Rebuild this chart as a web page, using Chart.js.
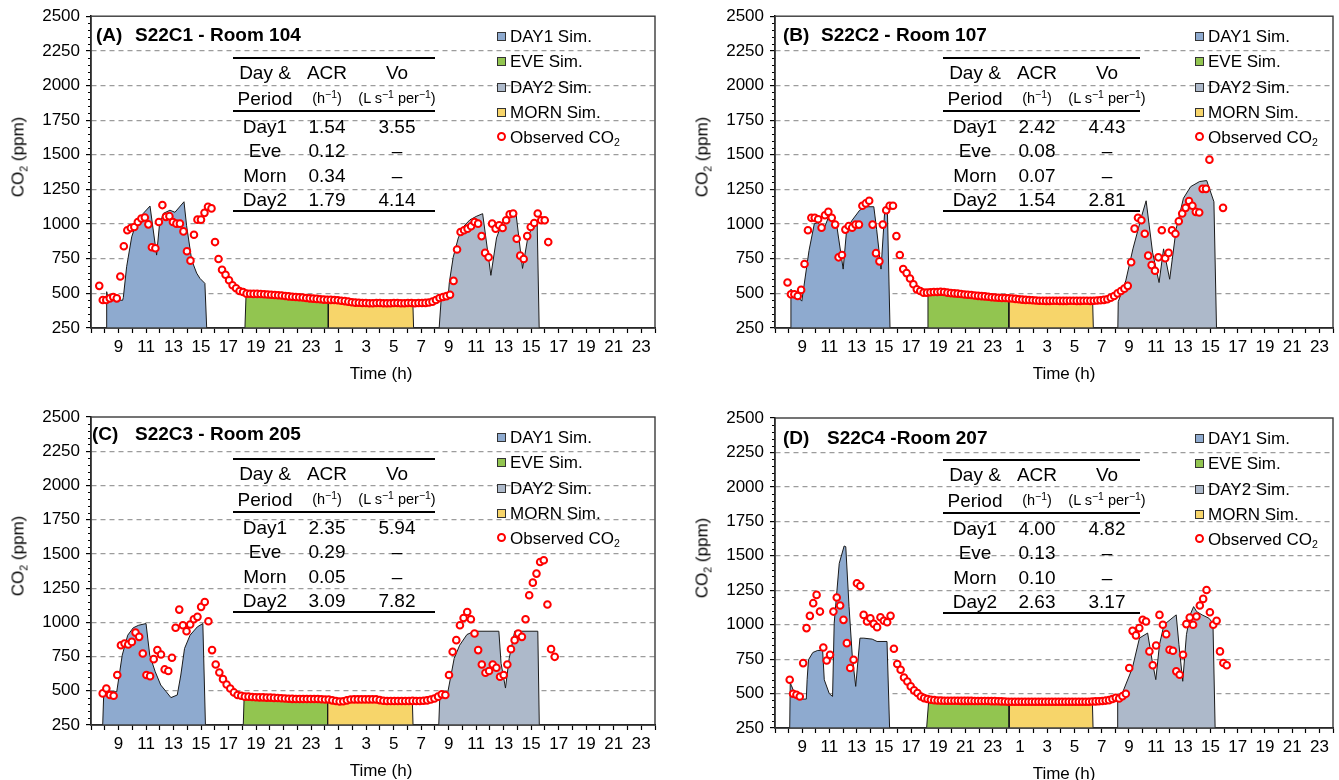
<!DOCTYPE html>
<html>
<head>
<meta charset="utf-8">
<title>Simulated vs observed CO2</title>
<script src="https://cdn.jsdelivr.net/npm/chart.js@4.4.1/dist/chart.umd.min.js"></script>
<style>
  html, body { margin: 0; padding: 0; background: #fff; }
  body { position: relative; width: 1339px; height: 780px; overflow: hidden;
         font-family: "Liberation Sans", Arial, Helvetica, sans-serif; color: #000; }
  canvas { position: absolute; }
  .txt { position: absolute; white-space: nowrap; line-height: 1; }
  .title { font-weight: bold; font-size: 19px; }
  .tbl { font-size: 19px; }
  .unit { font-size: 14.5px; }
  .axt { font-size: 17px; }
  .leg { font-size: 17px; }
  sub { font-size: 0.62em; vertical-align: -0.35em; line-height: 0; }
  sup { font-size: 0.72em; vertical-align: 0.45em; line-height: 0; }
  .rule { position: absolute; height: 2px; background: #000; }
  .sw { position: absolute; width: 7px; height: 7px; border: 1px solid #333; }
  .ring { position: absolute; width: 5px; height: 5px; border: 2px solid #f00; border-radius: 50%; background: #fff; }
</style>
</head>
<body>
<script>
// x axis runs from 07:00 on day 1 to 24:00 on day 2 (day-2 hours are +24)
const xMin = 7, xMax = 48, xStep = 1;
const yMin = 250, yMax = 2500, yStep = 250, yMinor = 50;

const periodLabels = ['DAY1 Sim.', 'EVE Sim.', 'DAY2 Sim.', 'MORN Sim.'];
const obsLabel = 'Observed CO<sub>2</sub>';
const tableHead = ['Day &amp;', 'ACR', 'Vo'];
const tableUnits = ['Period', '(h<sup>−1</sup>)', '(L s<sup>−1</sup> per<sup>−1</sup>)'];
const tableRows = ['Day1', 'Eve', 'Morn', 'Day2'];

const colDay1 = '#8eaacf', colEve = '#92c550', colDay2 = '#adb9ca', colMorn = '#f7d56a';

// ---------- (A) S22C1 - Room 104 ----------
const acrA = ['1.54', '0.12', '0.34', '1.79'];
const voA = ['3.55', '–', '–', '4.14'];
const day1AX = [8.14, 8.14, 8.26, 9.3, 9.35, 9.59, 9.96, 10.32, 10.8, 11.29, 11.77, 11.97, 12.26, 12.74, 13.1, 13.76, 13.95, 14.32, 14.68, 14.92, 15.28, 15.41];
const day1AY = [250, 512, 455, 450, 470, 692, 908, 1016, 1077, 1130, 776, 988, 1077, 1100, 1085, 1161, 988, 740, 646, 608, 572, 250];
const eveAX = [18.19, 18.27, 20, 22, 24.25, 24.25];
const eveAY = [250, 485, 478, 462, 450, 250];
const mornAX = [24.25, 24.25, 25, 26, 28, 30.4, 30.45];
const mornAY = [250, 448, 440, 430, 426, 425, 250];
const day2AX = [32.31, 32.45, 32.95, 33.05, 33.33, 33.7, 34.06, 34.54, 35.0, 35.47, 36.07, 36.48, 36.85, 37.21, 37.5, 37.89, 38.37, 38.75, 39.15, 39.43, 39.58];
const day2AY = [250, 450, 460, 580, 760, 900, 980, 1030, 1055, 1075, 630, 900, 1000, 1050, 1070, 1080, 680, 900, 1000, 1030, 250];
const obsAStart = 7.6, obsAStep = 0.255;
const obsA = [
  554, 452, 452, 464, 474, 464, 622, 840, 955, 972, 979, 1015, 1040, 1047, 998, 833, 826, 1015, 1137, 1052,
  1057, 1015, 1003, 1003, 947, 804, 736, 923, 1032, 1032, 1081, 1125, 1113,
  870, 748, 670, 634, 595, 559, 537, 517, 510, 498,
  497, 496, 496, 495, 494, 492, 490, 488, 486, 484, 481, 478, 476, 474, 472, 470, 467, 464, 462, 460,
  457, 455, 454, 453, 452, 450, 447, 444, 440, 436, 433, 432, 430, 430, 429, 429, 430, 430, 429, 429,
  429, 430, 430, 429, 429, 430, 430, 429, 430, 430, 431, 434,
  440, 452, 466, 474, 480, 490, 590, 816, 943, 955, 967, 984, 1015, 1003, 913, 792, 760, 1003, 967, 991,
  972, 1028, 1071, 1076, 894, 772, 748, 913, 979, 1008, 1076, 1028, 1028, 870
];

// ---------- (B) S22C2 - Room 107 ----------
const acrB = ['2.42', '0.08', '0.07', '1.54'];
const voB = ['4.43', '–', '–', '2.81'];
const day1BX = [8.12, 8.17, 8.42, 8.97, 9.5, 9.89, 10.17, 10.56, 11.08, 11.52, 12.01, 12.27, 12.67, 13.22, 13.72, 14.26, 14.47, 14.79, 15.05, 15.26, 15.45];
const day1BY = [250, 530, 500, 444, 809, 1003, 1010, 955, 1088, 1000, 675, 967, 1028, 1100, 1125, 1125, 960, 675, 1076, 1090, 250];
const eveBX = [18.17, 18.24, 20, 22, 24.18, 24.18];
const eveBY = [250, 490, 484, 474, 464, 250];
const mornBX = [24.18, 24.18, 26, 28, 30.34, 30.39];
const mornBY = [250, 462, 447, 442, 440, 250];
const day2BX = [32.19, 32.22, 32.77, 33.3, 33.96, 34.27, 34.74, 35.22, 35.55, 36.0, 36.48, 37.01, 37.54, 38.2, 38.72, 39.25, 39.44];
const day2BY = [250, 440, 590, 821, 1064, 1168, 797, 578, 821, 602, 967, 1186, 1270, 1307, 1314, 1161, 250];
const obsBStart = 7.92, obsBStep = 0.25;
const obsB = [
  578, 493, 493, 481, 525, 712, 955, 1045, 1045, 1035, 974, 1064, 1088, 1045, 996, 760, 777, 960, 986, 974,
  996, 996, 1132, 1149, 1168, 996, 790, 731, 996, 1100, 1132, 1132, 913, 777, 675, 646, 607, 566, 529, 517, 505,
  505, 508, 510, 510, 512, 510, 505, 502, 500, 498, 495, 492, 490, 488, 485, 482, 480, 478, 475, 472,
  470, 468, 467, 466, 465, 463, 460, 458, 455, 453, 452, 450, 448,
  447, 447, 446, 446, 447, 447, 446, 446, 446, 447, 447, 446, 446, 447, 447, 446, 447, 448, 450, 453,
  457, 469, 481, 500, 517, 534, 554, 724, 967, 1045, 1028, 930, 772, 704, 663, 760, 955, 753, 792, 955,
  930, 1020, 1076, 1117, 1166, 1132, 1088, 1083, 1254, 1254, 1465,
  null, null, null, 1117
];

// ---------- (C) S22C3 - Room 205 ----------
const acrC = ['2.35', '0.29', '0.05', '3.09'];
const voC = ['5.94', '–', '–', '7.82'];
const day1CX = [7.85, 7.93, 8.87, 9.27, 9.67, 10.07, 10.47, 11.0, 11.27, 11.67, 12.07, 12.47, 12.81, 13.27, 13.53, 13.8, 14.2, 14.73, 15.13, 15.32];
const day1CY = [250, 493, 493, 760, 906, 960, 979, 991, 760, 639, 542, 493, 450, 469, 615, 809, 906, 967, 991, 250];
const eveCX = [18.07, 18.13, 20, 22, 24.2, 24.2];
const eveCY = [250, 452, 450, 446, 442, 250];
const mornCX = [24.2, 24.2, 26, 28, 30.36, 30.41];
const mornCY = [250, 440, 436, 433, 432, 250];
const day2CX = [32.28, 32.35, 32.9, 33.4, 33.8, 34.33, 34.87, 36.65, 36.81, 37.13, 37.4, 37.8, 39.48, 39.59];
const day2CY = [250, 440, 470, 736, 833, 911, 935, 935, 700, 520, 736, 935, 935, 250];
const obsCStart = 7.85, obsCStep = 0.265;
const obsC = [
  481, 517, 469, 464, 615, 833, 845, 838, 857, 925, 894, 772, 615, 607, 731, 797, 765, 656, 644, 741,
  960, 1093, 979, 935, 984, 1023, 1040, 1113, 1149, 1008, 797, 692, 634, 585, 546, 517, 488, 469, 464, 457,
  457, 455, 453, 452, 452, 450, 450, 448, 447, 445, 444, 442, 441, 440, 440, 440, 440, 440, 440, 440,
  438, 436, 436, 430, 425, 422, 424, 430, 436, 437, 437, 437, 437, 437, 437, 437, 432, 427, 425, 425,
  425, 425, 425, 425, 425, 426, 425, 425, 427, 430, 436,
  444, 457, 474, 469, 615, 785, 870, 979, 1032, 1076, 1023, 918, 797, 692, 632, 644, 692, 668, 602, 615,
  692, 804, 870, 918, 894, 1023, 1198, 1290, 1356, 1441, 1453, 1130, 804, 748
];

// ---------- (D) S22C4 -Room 207 ----------
const acrD = ['4.00', '0.13', '0.10', '2.63'];
const voD = ['4.82', '–', '–', '3.17'];
const day1DX = [8.08, 8.12, 8.2, 8.6, 9.3, 9.36, 9.46, 9.78, 10.14, 10.5, 10.62, 10.99, 11.23, 11.35, 11.72, 12.08, 12.2, 12.44, 12.68, 12.93, 13.24, 13.53, 14.14, 14.5, 15.23, 15.42];
const day1DY = [250, 576, 560, 460, 460, 600, 745, 798, 813, 813, 600, 499, 479, 1011, 1445, 1571, 1566, 1131, 769, 552, 902, 902, 895, 878, 878, 250];
const eveDX = [18.14, 18.3, 20, 22, 24.2, 24.2];
const eveDY = [250, 457, 453, 450, 445, 250];
const mornDX = [24.2, 24.2, 26, 28, 30.32, 30.37];
const mornDY = [250, 445, 442, 440, 440, 250];
const day2DX = [32.15, 32.18, 32.48, 33.26, 33.78, 34.38, 34.72, 34.98, 35.25, 35.58, 36.17, 36.48, 36.68, 36.96, 37.23, 37.5, 37.76, 37.98, 38.38, 38.88, 39.18, 39.34];
const day2DY = [250, 470, 493, 686, 903, 939, 734, 601, 855, 999, 1047, 1071, 855, 589, 927, 1071, 1131, 1095, 1071, 1047, 1011, 250];
const obsDStart = 8.08, obsDStep = 0.247;
const obsD = [
  600, 499, 491, 479, 721, 975, 1064, 1156, 1216, 1095, 834, 740, 781, 1095, 1197, 1139, 1035, 866, 685, 745,
  1300, 1281, 1071, 1023, 1047, 1006, 982, 1054, 1028, 1018, 1064, 825, 714, 673, 617, 588, 552, 523, 504, 479,
  467, 460,
  455, 452, 450, 449, 448, 448, 448, 448, 448, 447, 447, 447, 447, 446, 446, 446, 446, 446, 445, 445,
  444, 443, 442, 441, 440, 440, 440, 440, 440, 440, 440, 440, 440, 440, 440, 440, 440, 440, 440, 440,
  440, 440, 440, 440, 440, 440, 441, 441, 442, 443, 444, 446, 449,
  452, 461, 469, 464, 481, 498, 686, 955, 922, 975, 1035, 1023, 806, 705, 849, 1071, 999, 931, 818, 811,
  661, 637, 782, 1004, 1052, 999, 1059, 1139, 1187, 1252, 1090, 999, 1028, 806, 722, 705
];

// page layout of the four panels: canvas box [left, top, w, h], plot area [l, t, r, b]
const panels = [
  { box: [0, 0, 670, 395], plot: [91, 16, 655, 328], tag: '(A)', name: 'S22C1 - Room 104', tagX: 96, nameX: 135, titleY: 34,
    tableX: 233, tableW: 202, legX: 497, acr: acrA, vo: voA, obs: obsA, obsStart: obsAStart, obsStep: obsAStep,
    sims: [[day1AX, day1AY, colDay1], [eveAX, eveAY, colEve], [day2AX, day2AY, colDay2], [mornAX, mornAY, colMorn]] },
  { box: [680, 0, 659, 395], plot: [775, 16, 1337, 328], tag: '(B)', name: 'S22C2 - Room 107', tagX: 783, nameX: 821, titleY: 34,
    tableX: 943, tableW: 197, legX: 1195, acr: acrB, vo: voB, obs: obsB, obsStart: obsBStart, obsStep: obsBStep,
    sims: [[day1BX, day1BY, colDay1], [eveBX, eveBY, colEve], [day2BX, day2BY, colDay2], [mornBX, mornBY, colMorn]] },
  { box: [0, 400, 670, 380], plot: [91, 417, 655, 725], tag: '(C)', name: 'S22C3 - Room 205', tagX: 92, nameX: 135, titleY: 433,
    tableX: 233, tableW: 202, legX: 497, acr: acrC, vo: voC, obs: obsC, obsStart: obsCStart, obsStep: obsCStep,
    sims: [[day1CX, day1CY, colDay1], [eveCX, eveCY, colEve], [day2CX, day2CY, colDay2], [mornCX, mornCY, colMorn]] },
  { box: [680, 400, 659, 380], plot: [775, 418, 1337, 728], tag: '(D)', name: 'S22C4 -Room 207', tagX: 783, nameX: 827, titleY: 437,
    tableX: 943, tableW: 197, legX: 1195, acr: acrD, vo: voD, obs: obsD, obsStart: obsDStart, obsStep: obsDStep,
    sims: [[day1DX, day1DY, colDay1], [eveDX, eveDY, colEve], [day2DX, day2DY, colDay2], [mornDX, mornDY, colMorn]] }
];

Chart.defaults.font.family = '"Liberation Sans", Arial, Helvetica, sans-serif';
Chart.defaults.color = '#000';

// minor y ticks and the closed plot frame
const framePlugin = {
  id: 'frame',
  afterDraw(chart) {
    const { ctx, chartArea: a, scales: { y } } = chart;
    ctx.save();
    ctx.strokeStyle = '#000';
    ctx.lineWidth = 1;
    ctx.beginPath();
    for (let v = yMin; v <= yMax; v += yMinor) {
      if (v % yStep === 0) continue;
      const py = Math.round(y.getPixelForValue(v)) + 0.5;
      ctx.moveTo(a.left - 3, py);
      ctx.lineTo(a.left, py);
    }
    ctx.stroke();
    ctx.strokeStyle = '#3a3a3a';
    ctx.lineWidth = 1.4;
    ctx.strokeRect(a.left, a.top, a.right - a.left, a.bottom - a.top);
    ctx.restore();
  }
};

function txt(html, x, y, cls, anchor, rot) {
  const d = document.createElement('div');
  d.className = 'txt ' + cls;
  d.innerHTML = html;
  d.style.left = x + 'px';
  d.style.top = y + 'px';
  let tf = anchor === 'c' ? 'translate(-50%,-50%)' : 'translate(0,-50%)';
  if (rot) tf += ' rotate(-90deg)';
  d.style.transform = tf;
  document.body.appendChild(d);
}

function box(cls, x, y, w, color) {
  const d = document.createElement('div');
  d.className = cls;
  d.style.left = x + 'px';
  d.style.top = y + 'px';
  if (w) d.style.width = w + 'px';
  if (color) d.style.background = color;
  document.body.appendChild(d);
}

function drawPanel(p) {
  const [cl, ct, cw, ch] = p.box;
  const [pl, pt, pr, pb] = p.plot;
  const cv = document.createElement('canvas');
  cv.width = cw;
  cv.height = ch;
  cv.style.left = cl + 'px';
  cv.style.top = ct + 'px';
  document.body.appendChild(cv);

  const obsPts = p.obs.map((v, i) => ({ x: +(p.obsStart + i * p.obsStep).toFixed(3), y: v }));
  const areas = p.sims.map(([xs, ys, color], k) => ({
    label: periodLabels[k],
    data: xs.map((x, i) => ({ x, y: ys[i] })),
    fill: 'start',
    backgroundColor: color,
    borderColor: '#1a1a1a',
    borderWidth: 1,
    pointRadius: 0,
    tension: 0,
    order: 2
  }));

  new Chart(cv, {
    type: 'line',
    data: {
      datasets: [{
        label: 'Observed CO2',
        data: obsPts,
        showLine: false,
        pointRadius: 3.3,
        pointBorderWidth: 2,
        pointBorderColor: '#ff0000',
        pointBackgroundColor: '#ffffff',
        order: 1
      }, ...areas]
    },
    options: {
      responsive: false,
      animation: false,
      devicePixelRatio: 1,
      layout: { padding: { top: pt - ct, right: cl + cw - pr, left: 0, bottom: 0 } },
      plugins: { legend: { display: false }, tooltip: { enabled: false } },
      scales: {
        x: {
          type: 'linear', min: xMin, max: xMax,
          afterFit: s => { s.height = ct + ch - pb; },
          ticks: {
            stepSize: xStep, autoSkip: false, maxRotation: 0, padding: 4,
            font: { size: 17 },
            callback: v => (v % 2 && v > xMin ? String(v % 24) : '')
          },
          grid: { drawOnChartArea: false, drawTicks: true, tickLength: 5, tickColor: '#000', tickWidth: 1.2 },
          border: { color: '#000', width: 1.5 }
        },
        y: {
          min: yMin, max: yMax,
          afterFit: s => { s.width = pl - cl; },
          ticks: { stepSize: yStep, padding: 6, font: { size: 17 }, callback: v => String(v) },
          grid: {
            color: c => (c.tick && (c.tick.value === yMin || c.tick.value === yMax)) ? 'rgba(0,0,0,0)' : '#9c9c9c',
            lineWidth: 1.2, tickLength: 5, tickColor: '#000', tickWidth: 1.2
          },
          border: { color: '#000', width: 1.5, dash: [5, 4] }
        }
      }
    },
    plugins: [framePlugin]
  });

  // title
  txt(p.tag, p.tagX, p.titleY, 'title', 'l');
  txt(p.name, p.nameX, p.titleY, 'title', 'l');

  // axis titles
  txt('CO<sub>2</sub> (ppm)', pl - 73, (pt + pb) / 2 - 15, 'axt', 'c', true);
  txt('Time (h)', (pl + pr) / 2 + 8, pb + 45, 'axt', 'c');

  // parameter table
  const L = p.tableX, T = pt, W = p.tableW;
  box('rule', L, T + 41, W);
  box('rule', L, T + 94, W);
  box('rule', L, T + 194, W);
  const cx = [L + 32, L + 94, L + 164];
  tableHead.forEach((t, k) => txt(t, cx[k], T + 56, 'tbl', 'c'));
  tableUnits.forEach((t, k) => txt(t, cx[k], T + 82, k ? 'unit' : 'tbl', 'c'));
  tableRows.forEach((r, j) => {
    const y = T + 110 + j * 24.4;
    txt(r, cx[0], y, 'tbl', 'c');
    txt(p.acr[j], cx[1], y, 'tbl', 'c');
    txt(p.vo[j], cx[2], y, 'tbl', 'c');
  });

  // legend
  const legColors = [colDay1, colEve, colDay2, colMorn];
  periodLabels.forEach((lab, k) => {
    const y = T + 20 + k * 25.3;
    box('sw', p.legX, y - 4, 0, legColors[k]);
    txt(lab, p.legX + 13, y, 'leg', 'l');
  });
  const yo = T + 20 + 4 * 25.3;
  box('ring', p.legX - 0.5, yo - 5.5);
  txt(obsLabel, p.legX + 13, yo, 'leg', 'l');
}

panels.forEach(drawPanel);
</script>
</body>
</html>
